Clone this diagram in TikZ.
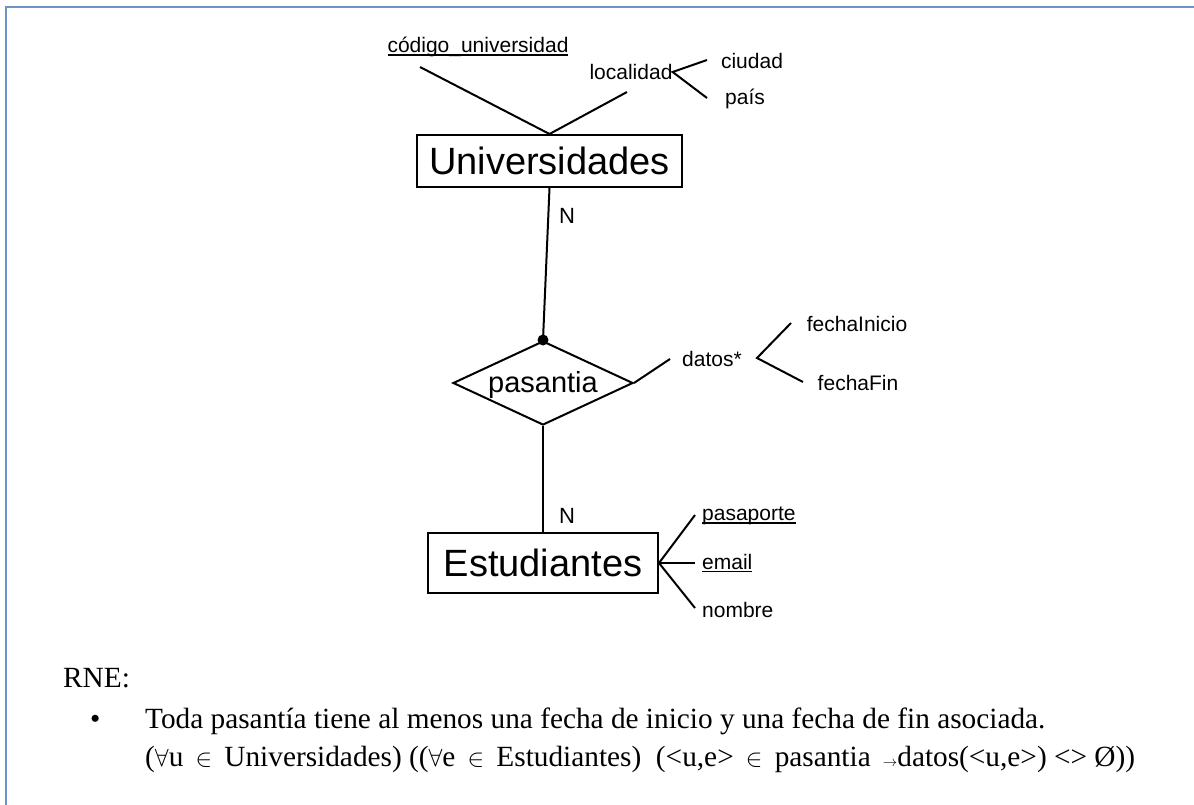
\documentclass[tikz,border=0pt]{standalone}
\usepackage{fontspec}
\setmainfont{Liberation Serif}
\newfontfamily\erfont{Liberation Sans}
\usepackage{xcolor}
\definecolor{frame-blue}{HTML}{6F93C8}
\usepackage{tikz}
\usetikzlibrary{shapes.geometric}
\newcommand{\keyattr}[1]{\setbox0\hbox{#1}\rlap{\rule[-3pt]{\wd0}{1.3pt}}\box0}
\newcommand{\pertenece}{\,$\in$\,}
\tikzset{entity/.style = {draw, line width=2pt, inner sep=0pt, font=\erfont\fontsize{38}{40}\selectfont}}
\tikzset{relation/.style = {draw, diamond, line width=2pt, inner sep=0pt, minimum width=180pt, minimum height=84pt}}
\tikzset{attr/.style = {inner sep=0pt, font=\erfont\fontsize{21}{24}\selectfont}}
\tikzset{card/.style = {inner sep=0pt, font=\erfont\fontsize{22}{24}\selectfont}}
\tikzset{lnk/.style = {line width=2pt}}
\tikzset{rne/.style = {inner sep=0pt, anchor=base west, font=\fontsize{29.3}{32}\selectfont}}

\begin{document}
\begin{tikzpicture}[x=1pt, y=-1pt]
\useasboundingbox (0,0) rectangle (1194,805);
\draw[frame-blue, line width=1.5pt] (6,805) -- (6,7) -- (1194,7);

\node[entity, minimum width=265pt, minimum height=52pt] (univ) at (549.5,161) {Universidades};
\node[attr] (cod) at (478,47) {\keyattr{código\_universidad}};
\node[attr] (loc) at (631,72) {localidad};
\node[attr] (ciu) at (752,61) {ciudad};
\node[attr] (pais) at (745,99) {país};
\coordinate (cod1) at (420,67);
\coordinate (loc1) at (627,92);
\coordinate (ciu1) at (707,60);
\coordinate (pais1) at (707,98);

\node[relation] (pas) at (543,383) {};
\node[inner sep=0pt, font=\erfont\fontsize{29}{30}\selectfont] (pastxt) at (543,385) {pasantia};
\node[fill, circle, inner sep=0pt, minimum size=11pt] (dot) at (pas.north) {};
\node[attr] (dat) at (712,359) {datos*};
\node[attr] (fini) at (857,324) {fechaInicio};
\node[attr] (ffin) at (858,383) {fechaFin};
\coordinate (dat1) at (670,359);
\coordinate (datv) at (757,358);
\coordinate (fini1) at (791,323);
\coordinate (ffin1) at (803,382);

\node[entity, minimum width=230pt, minimum height=60pt] (est) at (543,563) {Estudiantes};
\node[attr, anchor=west] (pasp) at (702,516) {\keyattr{pasaporte}};
\node[attr, anchor=west] (mail) at (702,563) {\keyattr{email}};
\node[attr, anchor=west] (nom) at (702,610) {nombre};
\coordinate (pasp1) at (695,515);
\coordinate (mail1) at (695,563);
\coordinate (nom1) at (695,608);

\node[card] (n1) at (567,216) {N};
\node[card] (n2) at (567,516) {N};

\draw[lnk] (cod1) -- (univ.north);
\draw[lnk] (loc1) -- (univ.north);
\draw[lnk] (ciu1) -- (loc.east) -- (pais1);
\draw[lnk] (univ.south) -- (dot.center);
\draw[lnk] (pas.east) -- (dat1);
\draw[lnk] (fini1) -- (datv) -- (ffin1);
\draw[lnk] (pas.south) -- (est.north);
\draw[lnk] (pasp1) -- (est.east) -- (nom1);
\draw[lnk] (est.east) -- (mail1);

% regla de negocio
\node[rne] (rne) at (63,687) {RNE:};
\node[rne] (bul) at (90,728) {\textbullet};
\node[rne] (r1) at (145,728) {Toda pasantía tiene al menos una fecha de inicio y una fecha de fin asociada.};
\node[rne] (r2) at (145,766) {($\forall$u \pertenece{} Universidades) (($\forall$e \pertenece{} Estudiantes)\ \ (<u,e> \pertenece{} pasantia \,$\scriptscriptstyle\rightarrow$datos(<u,e>) <> Ø))};
\end{tikzpicture}
\end{document}
